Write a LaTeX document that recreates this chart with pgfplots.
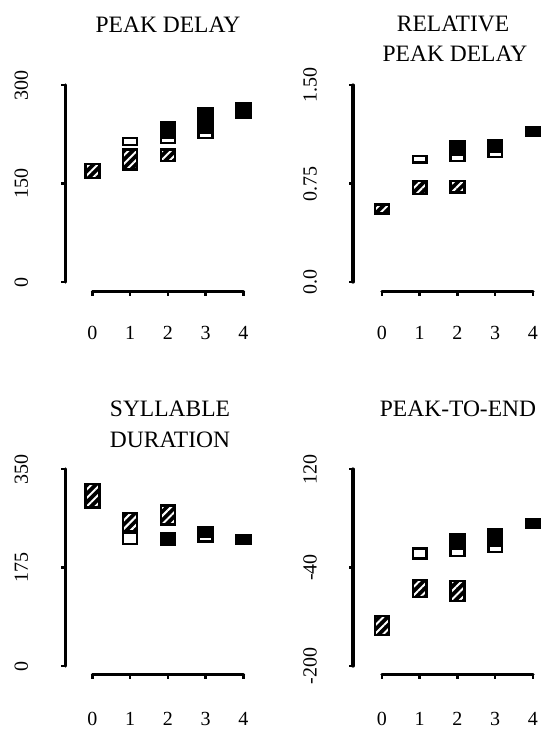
\documentclass[border=0pt]{standalone}
\usepackage{fontspec}
\setmainfont{Liberation Serif}
\usepackage{pgfplots}
\usepackage{pgfplotstable}
\pgfplotsset{compat=1.18}
\usepgfplotslibrary{statistics}
\usetikzlibrary{patterns.meta}

% boxes: x = condition, lo/hi = bottom and top of each box
\pgfplotstableread{
x lo hi
0 158 180
1 171 202
2 184 202
}\pdH
\pgfplotstableread{
x lo hi
1 209 219
2 212 220
3 219 228
}\pdO
\pgfplotstableread{
x lo hi
2 212 244
3 219 265
4 250 272
}\pdF

\pgfplotstableread{
x lo hi
0 0.52 0.59
1 0.67 0.77
2 0.68 0.77
}\rpH
\pgfplotstableread{
x lo hi
1 0.91 0.96
2 0.92 0.97
3 0.95 0.99
}\rpO
\pgfplotstableread{
x lo hi
2 0.92 1.07
3 0.95 1.08
4 1.11 1.18
}\rpF

\pgfplotstableread{
x lo hi
0 282 323
1 240 272
2 251 285
}\sdH
\pgfplotstableread{
x lo hi
1 217 237
3 221 229
}\sdO
\pgfplotstableread{
x lo hi
2 215 235
3 220 246
4 217 233
}\sdF

\pgfplotstableread{
x lo hi
0 -150 -119
1 -88 -60
2 -94 -62
}\peH
\pgfplotstableread{
x lo hi
1 -25 -9
2 -21 -9
3 -15 -4
}\peO
\pgfplotstableread{
x lo hi
2 -21 14
3 -15 22
4 24 38
}\peF

\newcommand\boxrow[3]{%
  \pgfplotstablegetelem{#2}{x}\of{#1}\let\bxx\pgfplotsretval
  \pgfplotstablegetelem{#2}{lo}\of{#1}\let\bxlo\pgfplotsretval
  \pgfplotstablegetelem{#2}{hi}\of{#1}\let\bxhi\pgfplotsretval
  \edef\bxcmd{\noexpand\addplot[#3, boxplot prepared={draw position=\bxx,
    lower whisker=\bxlo, lower quartile=\bxlo, median=\bxlo,
    upper quartile=\bxhi, upper whisker=\bxhi}] coordinates {};}%
  \bxcmd}
\newcommand\boxes[2]{%
  \pgfplotstablegetrowsof{#1}\pgfmathtruncatemacro\bxn{\pgfplotsretval-1}%
  \pgfplotsforeachungrouped \bxi in {0,...,\bxn}{\boxrow{#1}{\bxi}{#2}}}

\pgfplotsset{
  panel/.style={
    scale only axis, x=37.75pt, xmax=4.5, clip=false,
    axis x line*=bottom, axis y line*=left, axis line style={draw=none},
    tick align=outside, major tick length=4pt,
    tick style={black, line width=2.5pt},
    xtick={0,1,2,3,4}, xticklabels={0,1,2,3,4},
    tick label style={font=\fontsize{20}{24}\selectfont},
    /pgf/number format/assume math mode=true,
    boxplot/draw direction=y,
    boxplot/box extend=0.37, boxplot/whisker extend=0.37,
  },
  filled/.style={draw=black, line width=2.5pt, boxplot/every box/.style={fill=black}},
  open/.style={draw=black, line width=2.5pt, boxplot/every box/.style={fill=white}},
  hatched/.style={draw=black, line width=2.5pt, boxplot/every box/.style={
    preaction={fill=black}, pattern={Lines[angle=45,distance=6pt,line width=2pt]},
    pattern color=white}},
}
\tikzset{axisline/.style={line width=3.2pt, line cap=round}}

\newcommand\titlefont{\fontsize{23.5}{30}\selectfont}

\begin{document}
\begin{tikzpicture}

\begin{axis}[panel, at={(65.3pt,-291.5pt)}, anchor=south west,
  xmin=-0.72, y=0.65667pt, ymin=-14.47, ymax=300,
  ytick={0,150,300}, yticklabels={0,150,300},
  xticklabel style={anchor=base, yshift=-43.5pt},
  yticklabel style={xshift=-40pt, rotate=90, anchor=center}]
\draw[axisline] (axis cs:-0.72,0) -- (axis cs:-0.72,300);
\draw[axisline] (axis cs:0,-14.47) -- (axis cs:4,-14.47);
\boxes{\pdF}{filled}
\boxes{\pdO}{open}
\boxes{\pdH}{hatched}
\end{axis}

\begin{axis}[panel, at={(353pt,-291.5pt)}, anchor=south west,
  xmin=-0.768, y=131.33pt, ymin=-0.0723, ymax=1.5,
  ytick={0,0.75,1.5}, yticklabels={0.0,0.75,1.50},
  xticklabel style={anchor=base, yshift=-43.5pt},
  yticklabel style={xshift=-39pt, rotate=90, anchor=center}]
\draw[axisline] (axis cs:-0.768,0) -- (axis cs:-0.768,1.5);
\draw[axisline] (axis cs:0,-0.0723) -- (axis cs:4,-0.0723);
\boxes{\rpF}{filled}
\boxes{\rpO}{open}
\boxes{\rpH}{hatched}
\end{axis}

\begin{axis}[panel, at={(65.3pt,-674.5pt)}, anchor=south west,
  xmin=-0.72, y=0.56286pt, ymin=-15.1, ymax=350,
  ytick={0,175,350}, yticklabels={0,175,350},
  xticklabel style={anchor=base, yshift=-46.5pt},
  yticklabel style={xshift=-40pt, rotate=90, anchor=center}]
\draw[axisline] (axis cs:-0.72,0) -- (axis cs:-0.72,350);
\draw[axisline] (axis cs:0,-15.1) -- (axis cs:4,-15.1);
\boxes{\sdF}{filled}
\boxes{\sdO}{open}
\boxes{\sdH}{hatched}
\end{axis}

\begin{axis}[panel, at={(353pt,-674.5pt)}, anchor=south west,
  xmin=-0.768, y=0.615625pt, ymin=-213.8, ymax=120,
  ytick={-200,-40,120}, yticklabels={-200,-40,120},
  xticklabel style={anchor=base, yshift=-46.5pt},
  yticklabel style={xshift=-39pt, rotate=90, anchor=center}]
\draw[axisline] (axis cs:-0.768,-200) -- (axis cs:-0.768,120);
\draw[axisline] (axis cs:0,-213.8) -- (axis cs:4,-213.8);
\boxes{\peF}{filled}
\boxes{\peO}{open}
\boxes{\peH}{hatched}
\end{axis}

\node[font=\titlefont, anchor=base] at (168pt,-32pt) {PEAK DELAY};
\node[font=\titlefont, anchor=base] at (453pt,-31.7pt) {RELATIVE};
\node[font=\titlefont, anchor=base] at (455pt,-61.7pt) {PEAK DELAY};
\node[font=\titlefont, anchor=base] at (170pt,-416.7pt) {SYLLABLE};
\node[font=\titlefont, anchor=base] at (170pt,-447pt) {DURATION};
\node[font=\titlefont, anchor=base] at (458pt,-416.7pt) {PEAK-TO-END};

\pgfresetboundingbox
\path[use as bounding box] (0,0) rectangle (541pt,-729pt);
\end{tikzpicture}
\end{document}
